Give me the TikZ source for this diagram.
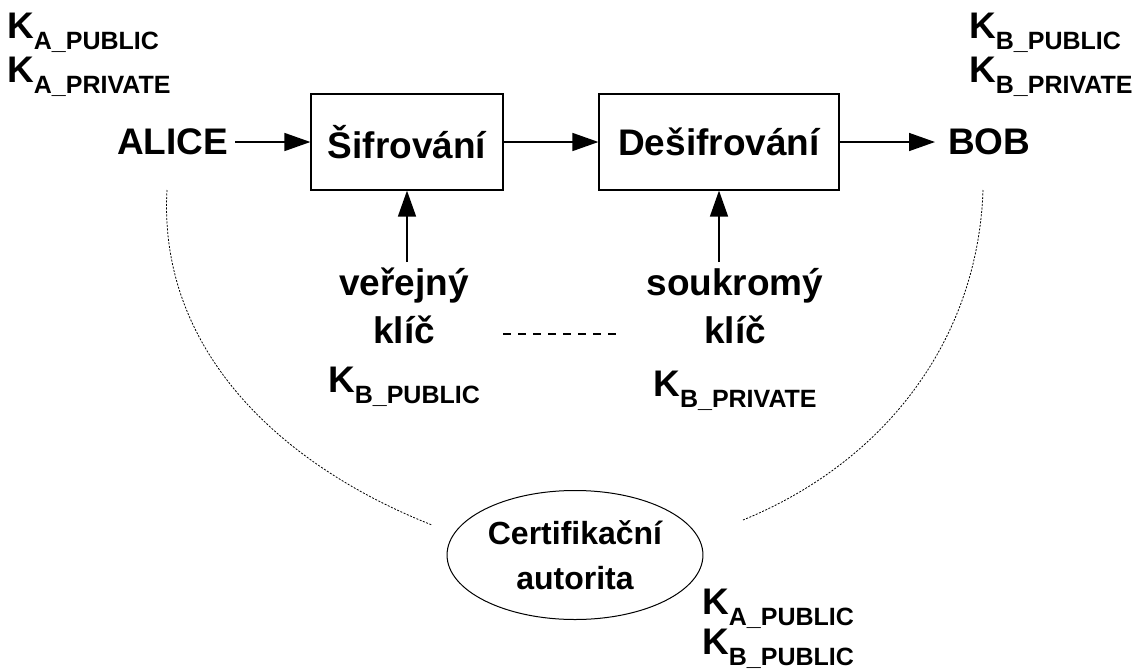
\documentclass[tikz,border=0pt]{standalone}
\usepackage{fontspec}
\setmainfont{Liberation Sans}
\usepackage{tikz}
\usetikzlibrary{arrows.meta,shapes.geometric}

\newcommand{\mainfnt}{\fontsize{37}{44}\selectfont\bfseries}
\newcommand{\keyfnt}{\fontsize{37}{44}\selectfont\bfseries}
\newcommand{\cafnt}{\fontsize{32}{45}\selectfont\bfseries}
\newcommand{\keyname}[1]{K\raisebox{-11pt}{\fontsize{25}{25}\selectfont #1}}

\tikzset{
	lbl/.style={font=\mainfnt, inner sep=0pt, anchor=base},
	keylbl/.style={font=\keyfnt, inner sep=0pt, anchor=base west},
	block/.style={draw, line width=1.2pt, minimum height=96pt, font=\mainfnt},
	flow/.style={-{Triangle[length=26pt,width=18pt]}, line width=1.5pt},
	link/.style={dash pattern=on 2pt off 1.5pt, line width=0.8pt},
}

\begin{document}
\begin{tikzpicture}[x=1pt,y=-1pt]
		\useasboundingbox (0,0) rectangle (1141,670);
		%
		\node[keylbl] (apub) at (7,38) {\keyname{A\_PUBLIC}};
		\node[keylbl] (apriv) at (7,82) {\keyname{A\_PRIVATE}};
		\node[keylbl] (bpub) at (969,38) {\keyname{B\_PUBLIC}};
		\node[keylbl] (bpriv) at (969,82) {\keyname{B\_PRIVATE}};
		%
		\node[font=\mainfnt, inner sep=0pt, anchor=west] (alice) at (117,142) {ALICE};
		\node[font=\mainfnt, inner sep=0pt, anchor=west] (bob) at (948,142) {BOB};
		\node[block, minimum width=192pt] (sifr) at (407,142) {Šifrování};
		\node[block, minimum width=240pt] (desifr) at (719,142) {Dešifrování};
		%
		\node[lbl] (verejny) at (404,295) {veřejný};
		\node[lbl] (klic1) at (404,343) {klíč};
		\node[keylbl, anchor=base] (kpub) at (404,392) {\keyname{B\_PUBLIC}};
		\node[lbl] (soukromy) at (735,295) {soukromý};
		\node[lbl] (klic2) at (735,343) {klíč};
		\node[keylbl, anchor=base] (kpriv) at (735,396) {\keyname{B\_PRIVATE}};
		%
		\node[draw, ellipse, line width=1pt, minimum width=240pt, minimum height=129pt,
			align=center, font=\cafnt] (ca) at (575,555) {Certifikační\\autorita};
		\node[keylbl] (capub) at (702,614) {\keyname{A\_PUBLIC}};
		\node[keylbl] (cbpub) at (702,654) {\keyname{B\_PUBLIC}};
		%
		\coordinate (pubin) at (407,262);
		\coordinate (privin) at (719,262);
		\coordinate (dashl) at (503,334);
		\coordinate (dashr) at (617,334);
		\coordinate (aend) at (167,190);
		\coordinate (bend) at (983,190);
		\coordinate (caleft) at (432,525);
		\coordinate (caright) at (743,520);
		%
		% horizontal arrows
		\draw[flow, shorten <=7pt] (alice) -- (sifr);
		\draw[flow] (sifr) -- (desifr);
		\draw[flow, shorten >=13pt] (desifr) -- (bob);
		% vertical arrows
		\draw[flow] (pubin) -- (sifr);
		\draw[flow] (privin) -- (desifr);
		% key pair
		\draw[dash pattern=on 8pt off 7pt, line width=1.5pt] (dashl) -- (dashr);
		% certificates
		\draw[link] (aend) .. controls (158,350) and (280,465) .. (caleft);
		\draw[link] (bend) .. controls (978,340) and (885,462) .. (caright);
	\end{tikzpicture}
\end{document}
